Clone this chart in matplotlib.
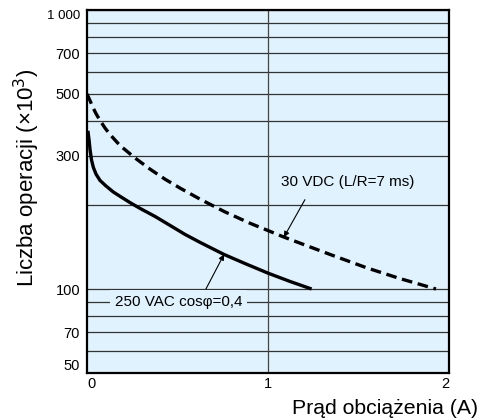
import matplotlib
matplotlib.use("Agg")
import matplotlib.pyplot as plt
from matplotlib.ticker import FixedLocator, NullFormatter, NullLocator

plt.rcParams['font.family'] = ['Liberation Sans', 'DejaVu Sans']

# Data
ac_current = [0.005, 0.012, 0.017, 0.025, 0.035, 0.050, 0.072, 0.105, 0.144, 0.182, 0.238, 0.293,
              0.376, 0.459, 0.541, 0.624, 0.757, 0.878, 1.0, 1.122, 1.241]
ac_ops = [369, 339, 315, 290, 273, 258, 245, 234, 223, 215, 204, 194.5,
          182, 169, 157, 147, 133, 123, 114, 106.4, 100]

dc_current = [0.0, 0.017, 0.033, 0.050, 0.072, 0.099, 0.127, 0.182, 0.265, 0.348, 0.431, 0.514,
              0.624, 0.762, 0.901, 1.0, 1.088, 1.177, 1.343, 1.547, 1.729, 1.928]
dc_ops = [500, 473, 447, 425, 402, 378, 358, 327, 295, 269, 247.5, 230,
          210, 189, 172, 162, 153.5, 146, 133, 119, 109, 100]

y_major_ticks = [50, 70, 100, 300, 500, 700, 1000]
y_major_labels = ["50", "70", "100", "300", "500", "700", "1 000"]
y_grid_lines = [50, 60, 70, 80, 90, 100, 200, 300, 400, 500, 600, 700, 800, 900, 1000]
x_ticks = [0, 1, 2]
x_labels = ["0", "1", "2"]

label_dc = "30 VDC (L/R=7 ms)"
label_ac = "250 VAC cos\u03c6=0,4"

bg = '#dff2fd'

fig = plt.figure(figsize=(4.82, 4.20), dpi=100)
ax = fig.add_axes([87/482, 1-373/420, (449-87)/482, (373-10)/420])
ax.set_facecolor(bg)
ax.set_yscale('log')
ax.set_xlim(0, 2)
ax.set_ylim(50, 1000)

# grid
for g in y_grid_lines:
    ax.axhline(g, color='#333333', lw=0.9, zorder=1)
ax.axvline(1, color='#444444', lw=0.9, zorder=1)

ax.plot(ac_current, ac_ops, color='black', lw=2.4, solid_capstyle='butt',
        solid_joinstyle='round', zorder=3)
ax.plot(dc_current, dc_ops, color='black', lw=2.4, linestyle=(0, (3.2, 1.7)),
        dash_capstyle='butt', zorder=3)

# ticks
ax.yaxis.set_major_locator(FixedLocator(y_major_ticks))
ax.yaxis.set_minor_locator(NullLocator())
ax.yaxis.set_minor_formatter(NullFormatter())
ax.set_yticklabels(y_major_labels)
ax.set_xticks(x_ticks)
ax.set_xticklabels(x_labels)
ax.tick_params(axis='both', length=0, labelsize=10.5, colors='black')
ax.tick_params(axis='y', pad=5)
ax.tick_params(axis='x', pad=3)
ylabs = ax.get_yticklabels()
for lab, val in zip(ylabs, y_major_ticks):
    if val == 1000:
        lab.set_fontsize(9.5)
        lab.set_va('top')
    if val == 50:
        lab.set_va('bottom')
xlabs = ax.get_xticklabels()
xlabs[0].set_ha('left')
xlabs[-1].set_ha('right')

for s in ax.spines.values():
    s.set_linewidth(1.6)
    s.set_color('black')
    s.set_zorder(5)

# annotations
ax.text(1.44, 241, label_dc, fontsize=11, ha='center', va='center', zorder=4)
ax.annotate('', xy=(1.088, 153.5), xytext=(1.204, 209),
            arrowprops=dict(arrowstyle='-|>', lw=0.8, color='black', mutation_scale=8,
                            shrinkA=0, shrinkB=0), zorder=4)
ax.text(0.505, 90, label_ac, fontsize=11, ha='center', va='center', zorder=4,
        bbox=dict(facecolor=bg, edgecolor='none', pad=3.5))
ax.annotate('', xy=(0.757, 133), xytext=(0.657, 100),
            arrowprops=dict(arrowstyle='-|>', lw=0.8, color='black', mutation_scale=8,
                            shrinkA=0, shrinkB=0), zorder=4)

ax.set_ylabel("Liczba operacji (\u00d710$^3$)", fontsize=16)
ax.yaxis.label.set_va('center')
ax.yaxis.set_label_coords((27-87)/362, (373-177.5)/363)
fig.text(478/482, 1-408/420, "Pr\u0105d obci\u0105\u017cenia (A)", fontsize=15.3,
         ha='right', va='center')

fig.savefig('out.png', dpi=100, facecolor='white')
